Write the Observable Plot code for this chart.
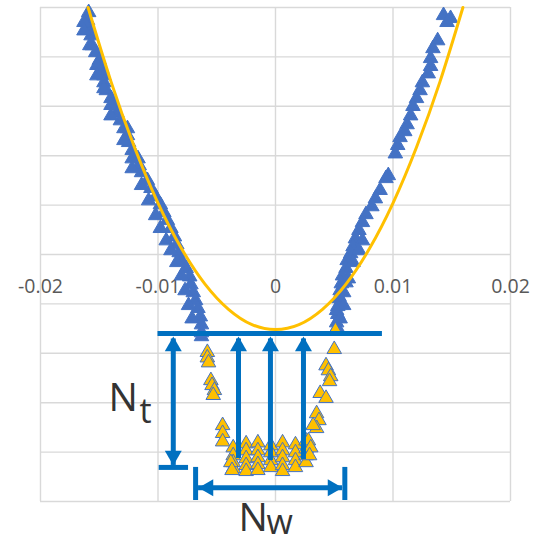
<!DOCTYPE html>
<html>
<head>
<meta charset="utf-8">
<script src="https://cdn.jsdelivr.net/npm/d3@7"></script>
<script src="https://cdn.jsdelivr.net/npm/@observablehq/plot@0.6"></script>
<style>
  body { margin: 0; background: #fff; }
  #chart svg { display: block; overflow: visible; }
</style>
</head>
<body>
<div id="chart"></div>
<script>
// Axis ticks and labels
const xTicks = [-0.02, -0.01, 0, 0.01, 0.02];
const xTickLabels = ["-0.02", "-0.01", "0", "0.01", "0.02"];
const yGrid = [-5, -4, -3, -2, -1, 0, 1, 2, 3, 4, 5];

// Moving points, left branch [x, y]
const leftBranch = [
  [-0.0159, 4.90], [-0.0160, 4.74], [-0.0159, 4.57], [-0.0157, 4.43], [-0.0156, 4.23],
  [-0.0153, 4.09], [-0.0150, 3.93], [-0.0148, 3.77], [-0.0146, 3.62], [-0.0146, 3.48],
  [-0.0144, 3.32], [-0.0140, 3.16], [-0.0138, 3.02], [-0.0135, 2.87], [-0.0132, 2.71],
  [-0.0126, 2.55], [-0.0126, 2.41], [-0.0125, 2.27], [-0.0122, 2.11], [-0.0117, 1.94],
  [-0.0116, 1.80], [-0.0114, 1.66], [-0.0109, 1.50], [-0.0106, 1.34], [-0.0102, 1.17],
  [-0.0098, 1.01], [-0.0095, 0.85], [-0.0092, 0.69], [-0.0089, 0.53], [-0.0086, 0.36],
  [-0.0084, 0.20], [-0.0082, 0.04], [-0.0080, -0.12], [-0.0076, -0.28], [-0.0073, -0.45],
  [-0.0072, -0.61], [-0.0070, -0.77], [-0.0068, -0.93], [-0.0066, -1.09], [-0.0064, -1.26],
  [-0.0063, -1.42], [-0.0063, -1.58], [-0.0063, -1.66],
  [-0.0163, 4.70], [-0.0163, 4.53], [-0.0158, 4.23], [-0.0152, 3.83], [-0.0152, 3.62],
  [-0.0146, 3.36], [-0.0140, 3.02], [-0.0140, 2.81], [-0.0129, 2.55], [-0.0129, 2.31],
  [-0.0122, 1.94], [-0.0122, 1.74], [-0.0114, 1.40], [-0.0108, 1.09], [-0.0102, 0.79],
  [-0.0098, 0.53], [-0.0093, 0.28], [-0.0089, 0.08], [-0.0084, -0.16], [-0.0080, -0.43],
  [-0.0077, -0.73], [-0.0074, -1.03], [-0.0071, -1.30]
];

// Moving points, right branch [x, y]
const rightBranch = [
  [0.0143, 4.84], [0.0149, 4.78], [0.0146, 4.70], [0.0138, 4.33], [0.0134, 4.17],
  [0.0132, 3.97], [0.0132, 3.81], [0.0130, 3.66], [0.0125, 3.48], [0.0123, 3.32],
  [0.0120, 3.16], [0.0117, 3.00], [0.0115, 2.81], [0.0112, 2.63], [0.0110, 2.49],
  [0.0106, 2.37], [0.0104, 2.21], [0.0102, 2.04], [0.0096, 1.60], [0.0094, 1.54],
  [0.0089, 1.30], [0.0085, 1.13], [0.0082, 0.97], [0.0077, 0.81], [0.0074, 0.65],
  [0.0071, 0.49], [0.0068, 0.32], [0.0066, 0.16], [0.0064, 0.02], [0.0061, -0.12],
  [0.0060, -0.28], [0.0057, -0.43], [0.0056, -0.59], [0.0055, -0.73], [0.0054, -0.89],
  [0.0053, -1.05], [0.0053, -1.21], [0.0052, -1.38], [0.0053, -1.50],
  [0.0074, 0.28], [0.0071, 0.08], [0.0066, -0.16], [0.0062, -0.49], [0.0060, -0.57],
  [0.0058, -0.77], [0.0054, -0.85], [0.0058, -1.03], [0.0052, -1.13], [0.0055, -1.30],
  [0.0051, -1.54]
];

// Stalled points below the threshold [x, y]
const stalledPoints = [
  [0.0051, -1.54],
  [-0.0058, -1.98], [-0.0058, -2.09], [-0.0057, -2.19],
  [-0.0055, -2.55], [-0.0054, -2.65], [-0.0052, -2.75], [-0.0053, -2.85],
  [-0.0045, -3.46], [-0.0045, -3.62], [-0.0045, -3.79],
  [-0.0036, -3.91], [-0.0036, -4.07], [-0.0036, -4.21], [-0.0036, -4.33], [-0.0038, -4.21], [-0.0037, -4.37],
  [-0.0025, -3.83], [-0.0025, -3.97], [-0.0025, -4.13], [-0.0025, -4.27], [-0.0025, -4.39],
  [-0.0015, -3.81], [-0.0015, -3.97], [-0.0015, -4.11], [-0.0015, -4.25], [-0.0015, -4.37],
  [-0.0004, -3.87], [-0.0004, -4.01], [-0.0004, -4.17], [-0.0004, -4.31],
  [0.0006, -3.81], [0.0006, -3.97], [0.0006, -4.11], [0.0006, -4.27], [0.0006, -4.39],
  [0.0017, -3.85], [0.0017, -4.01], [0.0017, -4.17], [0.0017, -4.31],
  [0.0026, -3.77], [0.0026, -3.93], [0.0026, -4.07], [0.0026, -4.21],
  [0.0050, -1.92],
  [0.0043, -2.25], [0.0045, -2.35], [0.0047, -2.47], [0.0046, -2.57],
  [0.0038, -2.81], [0.0043, -2.91],
  [0.0035, -3.22], [0.0037, -3.36], [0.0035, -3.52], [0.0032, -3.46],
  [0.0028, -3.77], [0.0030, -3.91], [0.0029, -4.07]
];

// Fitted parabola, sampled
const fitX = [-0.01595, -0.0140, -0.0120, -0.0100, -0.0080, -0.0060, -0.0040, -0.0020, 0,
              0.0020, 0.0040, 0.0060, 0.0080, 0.0100, 0.0120, 0.0140, 0.01595];
const fitY = [5.00, 3.50, 2.17, 1.04, 0.12, -0.60, -1.11, -1.42, -1.52,
              -1.42, -1.11, -0.60, 0.12, 1.04, 2.17, 3.50, 5.00];

// Annotation geometry, in data units
const threshold = {y: -1.60, x1: -0.0100, x2: 0.0091};
const upArrowX = [-0.0087, -0.00315, -0.00043, 0.00238];
const upArrowBottom = [-4.27, -4.13, -4.17, -4.15];
const arrowTipY = -1.66;
const depthBar = {y: -4.31, x1: -0.0099, x2: -0.0074};
const widthArrow = {y: -4.72, x1: -0.0068, x2: 0.0059, barTop: -4.31, barBottom: -4.98, tipL: -0.00655, tipR: 0.0057};
const labelsMain = [{x: -0.01421, y: -3.16, text: "N"}, {x: -0.00315, y: -5.60, text: "N"}];
const labelsSub = [{x: -0.01157, y: -3.42, text: "t"}, {x: -0.00077, y: -5.66, text: "w"}];

const fitLine = fitX.map((x, i) => ({x, y: fitY[i]}));
const upShafts = upArrowX.map((x, i) => ({x, y1: upArrowBottom[i], y2: arrowTipY - 0.05}));
const upHeads = upArrowX.map(x => ({x, y: arrowTipY}));

const blue = "#4472C4";
const arrowBlue = "#0070C0";
const markerR = 5.4;
const headR = 6.3;
const headOffset = 2 * headR * Math.sqrt(Math.PI / (3 * Math.sqrt(3)));

const chart = Plot.plot({
  width: 542,
  height: 545,
  marginLeft: 40,
  marginRight: 32,
  marginTop: 7,
  marginBottom: 44,
  x: {domain: [-0.02, 0.02], axis: null},
  y: {domain: [-5, 5], axis: null},
  marks: [
    Plot.ruleY(yGrid, {stroke: "#d9d9d9", strokeWidth: 1.4}),
    Plot.ruleX(xTicks, {stroke: "#d9d9d9", strokeWidth: 1.4}),
    Plot.text(xTicks, {x: d => d, y: 0, text: (d, i) => xTickLabels[i], dy: 32, fontSize: 19.5,
      fontFamily: "Open Sans", fill: "#595959"}),
    Plot.dot(leftBranch, {x: d => d[0], y: d => d[1], symbol: "triangle", r: markerR, fill: blue, stroke: blue, strokeWidth: 1}),
    Plot.dot(rightBranch, {x: d => d[0], y: d => d[1], symbol: "triangle", r: markerR, fill: blue, stroke: blue, strokeWidth: 1}),
    Plot.dot(stalledPoints, {x: d => d[0], y: d => d[1], symbol: "triangle", r: markerR, fill: "#FFC000", stroke: blue, strokeWidth: 1}),
    Plot.line(fitLine, {x: "x", y: "y", stroke: "#FFC000", strokeWidth: 3, curve: "natural"}),
    // threshold and arrows
    Plot.ruleY([threshold], {y: "y", x1: "x1", x2: "x2", stroke: arrowBlue, strokeWidth: 5, ariaLabel: "annotation"}),
    Plot.ruleX(upShafts, {x: "x", y1: "y1", y2: "y2", stroke: arrowBlue, strokeWidth: 5, ariaLabel: "annotation"}),
    Plot.dot(upHeads, {x: "x", y: "y", symbol: "triangle", r: headR, fill: arrowBlue, dy: headOffset, ariaLabel: "annotation"}),
    Plot.dot([{x: upArrowX[0], y: upArrowBottom[0]}], {x: "x", y: "y", symbol: "triangle", r: headR, fill: arrowBlue,
      rotate: 180, dy: -headOffset, ariaLabel: "annotation"}),
    Plot.ruleY([depthBar], {y: "y", x1: "x1", x2: "x2", stroke: arrowBlue, strokeWidth: 5, ariaLabel: "annotation"}),
    Plot.ruleY([widthArrow], {y: "y", x1: "tipL", x2: "tipR", stroke: arrowBlue, strokeWidth: 5, ariaLabel: "annotation"}),
    Plot.ruleX([widthArrow.x1, widthArrow.x2], {x: d => d, y1: widthArrow.barTop, y2: widthArrow.barBottom,
      stroke: arrowBlue, strokeWidth: 5, ariaLabel: "annotation"}),
    Plot.dot([widthArrow], {x: "tipL", y: "y", symbol: "triangle", r: headR, fill: arrowBlue, rotate: -90, dx: headOffset, ariaLabel: "annotation"}),
    Plot.dot([widthArrow], {x: "tipR", y: "y", symbol: "triangle", r: headR, fill: arrowBlue, rotate: 90, dx: -headOffset, ariaLabel: "annotation"}),
    // labels
    Plot.text(labelsMain, {x: "x", y: "y", text: "text", textAnchor: "start", lineAnchor: "bottom",
      fontSize: 39, fontFamily: "Open Sans", fill: "#333"}),
    Plot.text(labelsSub, {x: "x", y: "y", text: "text", textAnchor: "start", lineAnchor: "bottom",
      fontSize: 34, fontFamily: "Open Sans", fill: "#333"})
  ]
});

chart.querySelectorAll('[aria-label="annotation"]').forEach(g => {
  g.style.filter = "drop-shadow(2px 2px 1.5px rgba(0,0,0,0.3))";
});

document.getElementById("chart").appendChild(chart);
</script>
</body>
</html>
